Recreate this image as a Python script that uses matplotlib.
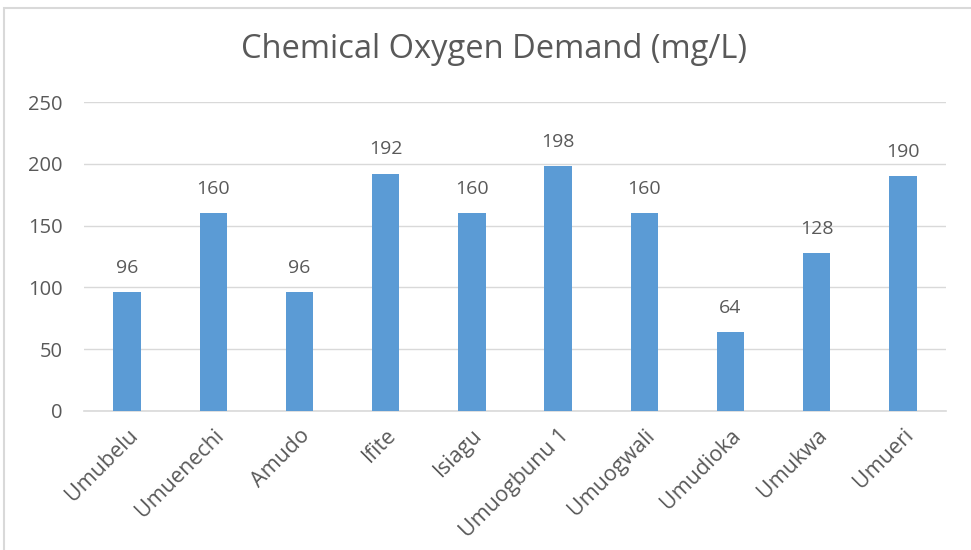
import matplotlib
matplotlib.use("Agg")
import matplotlib.pyplot as plt
from matplotlib.patches import Rectangle

# values
sites = ["Umubelu", "Umuenechi", "Amudo", "Ifite", "Isiagu",
         "Umuogbunu 1", "Umuogwali", "Umudioka", "Umukwa", "Umueri"]
cod = [96, 160, 96, 192, 160, 198, 160, 64, 128, 190]
yticks = [0, 50, 100, 150, 200, 250]

bar_color = "#5B9BD5"
text_color = "#595959"
grid_color = "#D9D9D9"

plt.rcParams['font.family'] = ['Open Sans', 'DejaVu Sans']

fig = plt.figure(figsize=(9.71, 5.5), dpi=100)
ax = fig.add_axes([84 / 971, 1 - 411 / 550, (946 - 84) / 971, (411 - 102) / 550])

x = range(len(sites))
bars = ax.bar(x, cod, width=0.32, color=bar_color, zorder=3)

for xi, v in zip(x, cod):
    ax.annotate(str(v), (xi, v), xytext=(0, 11), textcoords="offset points",
                ha="center", va="bottom", fontsize=14, color=text_color)

ax.set_xlim(-0.5, len(sites) - 0.5)
ax.set_ylim(0, 250)
ax.set_yticks(yticks)
ax.set_xticks(list(x))
ax.set_xticklabels(sites, rotation=45, ha="right", rotation_mode="anchor",
                   fontsize=15.5, color=text_color)
ax.tick_params(axis="y", labelsize=14.5, labelcolor=text_color, length=0, pad=15.5)
ax.tick_params(axis="x", length=0, pad=10)
ax.grid(axis="y", color=grid_color, linewidth=1, zorder=0)
for s in ["top", "right", "left"]:
    ax.spines[s].set_visible(False)
ax.spines["bottom"].set_color(grid_color)
ax.spines["bottom"].set_linewidth(1.2)

fig.text(494 / 971, 1 - 50 / 550, "Chemical Oxygen Demand (mg/L)",
         ha="center", va="center", fontsize=23.5, color=text_color)

# light frame around the chart area
fig.patches.append(Rectangle((4 / 971, -0.05), 1.1, 1 - 8 / 550 + 0.05,
                             transform=fig.transFigure, fill=False,
                             edgecolor=grid_color, linewidth=1.5))

fig.savefig("out.png", dpi=100)
